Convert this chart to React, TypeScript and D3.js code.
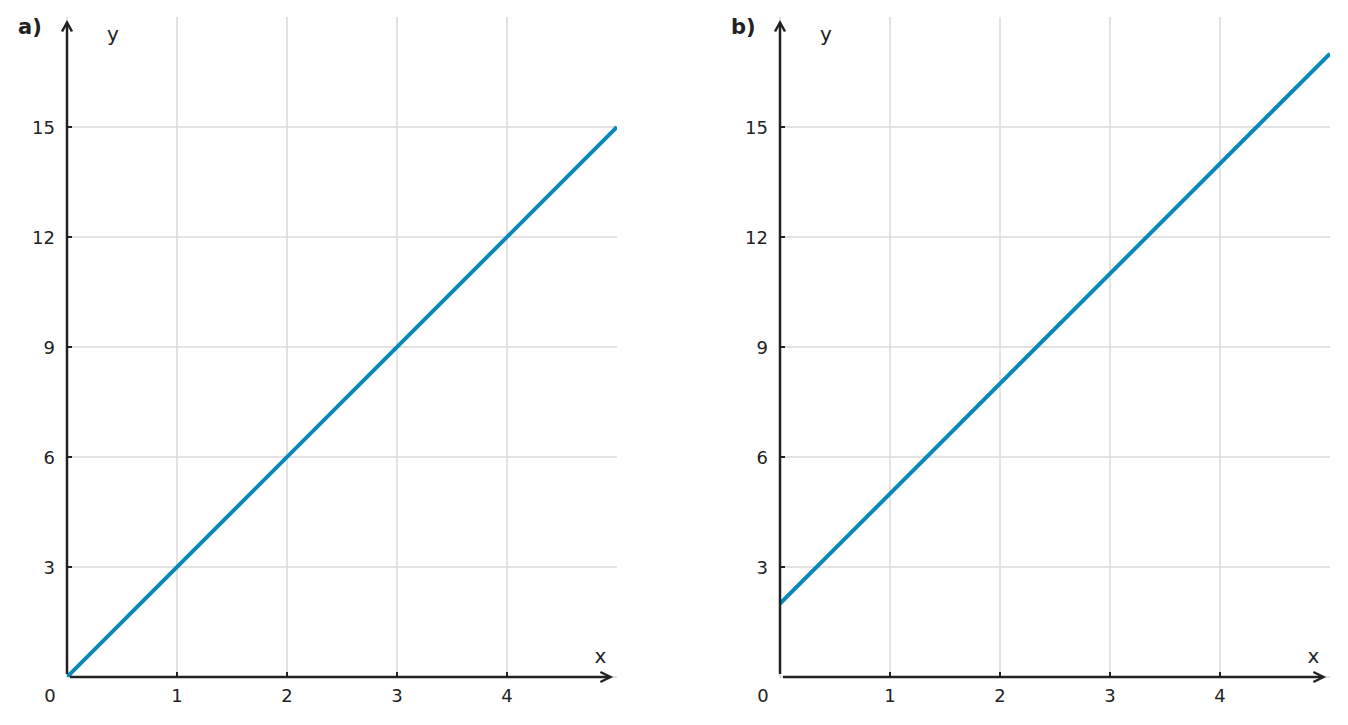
import * as d3 from "d3";
import React from "react";

const xTicks = [1, 2, 3, 4];
const yTicks = [3, 6, 9, 12, 15];
const panelLabels = ["a)", "b)"];
const lineA = [
  { x: 0, y: 0 },
  { x: 5, y: 15 },
];
const lineB = [
  { x: 0, y: 2 },
  { x: 5, y: 17 },
];
const series = [lineA, lineB];

const W = 1348;
const H = 725;
const FONT = "DejaVu Sans, sans-serif";
const INK = "#222";
const GRID = "#d9d9d9";
const BLUE = "#0888bb";

interface PanelProps {
  left: number;
  label: string;
  points: { x: number; y: number }[];
  id: string;
}

function Panel({ left, label, points, id }: PanelProps) {
  const x = d3.scaleLinear().domain([0, 5]).range([left, left + 550]);
  const y = d3.scaleLinear().domain([0, 18]).range([677, 17]);

  const line = d3
    .line<{ x: number; y: number }>()
    .x((d) => x(d.x))
    .y((d) => y(d.y));

  const x0 = x(0);
  const y0 = y(0);
  const xTip = x(4.94);
  const yTip = y(17.85);

  return (
    <g>
      <defs>
        <clipPath id={`clip-${id}`}>
          <rect x={x(0)} y={y(18)} width={x(5) - x(0)} height={y(0) - y(18)} />
        </clipPath>
      </defs>
      {/* grid */}
      {[0, ...xTicks].map((t) => (
        <line
          key={`gx-${t}`}
          x1={x(t)}
          x2={x(t)}
          y1={y(0)}
          y2={y(18)}
          stroke={GRID}
          strokeWidth={1.5}
        />
      ))}
      {[0, ...yTicks].map((t) => (
        <line
          key={`gy-${t}`}
          x1={x(0)}
          x2={x(5)}
          y1={y(t)}
          y2={y(t)}
          stroke={GRID}
          strokeWidth={1.5}
        />
      ))}

      {/* data line */}
      <path
        d={line(points) || ""}
        fill="none"
        stroke={BLUE}
        strokeWidth={4}
        clipPath={`url(#clip-${id})`}
      />

      {/* axes */}
      <line x1={x0} x2={x0} y1={y0 - 3} y2={yTip} stroke={INK} strokeWidth={2.5} />
      <line x1={x0 + 3} x2={xTip} y1={y0} y2={y0} stroke={INK} strokeWidth={2.5} />
      <polyline
        points={`${x0 - 5},${yTip + 9} ${x0},${yTip} ${x0 + 5},${yTip + 9}`}
        fill="none"
        stroke={INK}
        strokeWidth={2.5}
      />
      <polyline
        points={`${xTip - 10},${y0 - 5} ${xTip},${y0} ${xTip - 10},${y0 + 5}`}
        fill="none"
        stroke={INK}
        strokeWidth={2.5}
      />

      {/* ticks */}
      {xTicks.map((t) => (
        <line
          key={`tx-${t}`}
          x1={x(t)}
          x2={x(t)}
          y1={y0}
          y2={y0 - 5}
          stroke={INK}
          strokeWidth={2}
        />
      ))}
      {yTicks.map((t) => (
        <line
          key={`ty-${t}`}
          x1={x0}
          x2={x0 + 5}
          y1={y(t)}
          y2={y(t)}
          stroke={INK}
          strokeWidth={2}
        />
      ))}

      {/* tick labels */}
      {xTicks.map((t) => (
        <text
          key={`lx-${t}`}
          x={x(t)}
          y={702}
          textAnchor="middle"
          fontSize={18}
          fill={INK}
          fontFamily={FONT}
        >
          {t}
        </text>
      ))}
      {yTicks.map((t) => (
        <text
          key={`ly-${t}`}
          x={x0 - 12}
          y={y(t) + 6.5}
          textAnchor="end"
          fontSize={18}
          fill={INK}
          fontFamily={FONT}
        >
          {t}
        </text>
      ))}
      <text x={x0 - 17} y={702} textAnchor="middle" fontSize={18} fill={INK} fontFamily={FONT}>
        0
      </text>

      {/* axis names */}
      <text x={x(4.85)} y={663} textAnchor="middle" fontSize={20} fill={INK} fontFamily={FONT}>
        x
      </text>
      <text x={x0 + 46} y={41} textAnchor="middle" fontSize={20} fill={INK} fontFamily={FONT}>
        y
      </text>
      <text
        x={x0 - 49}
        y={34}
        fontSize={21}
        fontWeight="bold"
        fill={INK}
        fontFamily={FONT}
      >
        {label}
      </text>
    </g>
  );
}

export default function App() {
  const panelLeft = [67, 780];
  return (
    <svg
      width={W}
      height={H}
      style={{ position: "absolute", left: 0, top: 0, background: "#fff" }}
    >
      {series.map((pts, i) => (
        <Panel
          key={panelLabels[i]}
          id={`p${i}`}
          left={panelLeft[i]}
          label={panelLabels[i]}
          points={pts}
        />
      ))}
    </svg>
  );
}
